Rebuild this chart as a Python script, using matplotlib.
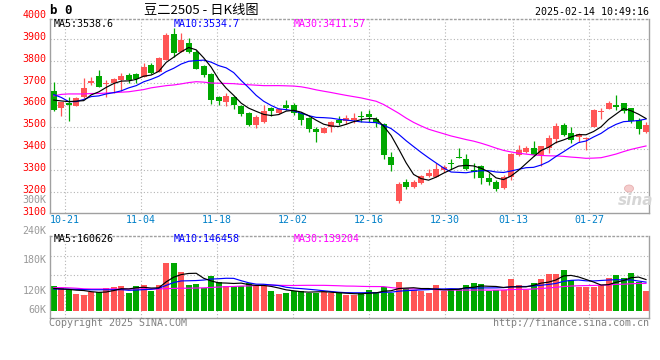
import numpy as np
import pandas as pd
import matplotlib
matplotlib.use("Agg")
import matplotlib.pyplot as plt
from matplotlib.patches import Rectangle, Ellipse
import matplotlib.transforms as mtransforms

# ---------------- data ----------------
tick_labels = ["10-21", "11-04", "11-18", "12-02", "12-16", "12-30", "01-13", "01-27"]
tick_index = [2, 12, 22, 32, 42, 52, 61, 71]

opens = [3663, 3584, 3610, 3595, 3638, 3699, 3732, 3694, 3699, 3714,
         3737, 3741, 3726, 3782, 3752, 3805, 3923, 3843, 3882, 3843,
         3778, 3741, 3634, 3615, 3638, 3596, 3561, 3508, 3523, 3587,
         3561, 3599, 3599, 3564, 3541, 3490, 3473, 3500, 3531, 3524,
         3531, 3551, 3558, 3534, 3511, 3363, 3162, 3249, 3226, 3244,
         3275, 3268, 3302, 3333, 3363, 3352, 3302, 3320, 3267, 3248,
         3218, 3272, 3371, 3386, 3401, 3371, 3401, 3444, 3508, 3473,
         3455, 3442, 3500, 3566, 3581, 3599, 3607, 3584, 3531, 3477]
highs = [3706, 3615, 3634, 3634, 3721, 3729, 3760, 3714, 3721, 3744,
         3744, 3747, 3793, 3793, 3821, 3930, 3950, 3930, 3904, 3851,
         3782, 3745, 3641, 3653, 3641, 3599, 3569, 3554, 3599, 3592,
         3584, 3622, 3610, 3569, 3546, 3500, 3500, 3528, 3549, 3554,
         3564, 3573, 3576, 3546, 3515, 3383, 3249, 3261, 3256, 3279,
         3305, 3333, 3325, 3351, 3401, 3374, 3333, 3325, 3287, 3256,
         3279, 3381, 3416, 3412, 3435, 3412, 3462, 3516, 3519, 3500,
         3473, 3455, 3580, 3584, 3618, 3645, 3607, 3584, 3538, 3523]
lows = [3572, 3549, 3528, 3593, 3630, 3691, 3683, 3634, 3656, 3665,
        3699, 3699, 3726, 3741, 3752, 3805, 3821, 3843, 3836, 3763,
        3729, 3604, 3599, 3595, 3581, 3549, 3503, 3496, 3518, 3549,
        3558, 3577, 3554, 3508, 3477, 3432, 3470, 3477, 3508, 3514,
        3515, 3523, 3523, 3500, 3352, 3299, 3153, 3215, 3218, 3238,
        3268, 3268, 3294, 3307, 3355, 3302, 3264, 3236, 3233, 3208,
        3214, 3256, 3366, 3381, 3366, 3320, 3381, 3424, 3458, 3424,
        3432, 3394, 3500, 3534, 3581, 3576, 3561, 3519, 3467, 3473]
closes = [3577, 3615, 3599, 3630, 3676, 3709, 3683, 3702, 3718, 3732,
          3714, 3717, 3775, 3744, 3816, 3920, 3836, 3897, 3843, 3763,
          3737, 3622, 3619, 3641, 3599, 3558, 3508, 3546, 3572, 3572,
          3580, 3587, 3564, 3531, 3490, 3477, 3496, 3523, 3519, 3540,
          3538, 3543, 3546, 3515, 3371, 3325, 3238, 3226, 3249, 3275,
          3290, 3307, 3317, 3330, 3355, 3307, 3294, 3264, 3249, 3216,
          3268, 3375, 3394, 3404, 3371, 3412, 3450, 3503, 3462, 3439,
          3465, 3447, 3577, 3569, 3607, 3589, 3573, 3528, 3490, 3508]
volumes_k = [127.5, 115.4, 110.3, 86.2, 81.0, 98.2, 98.2, 118.8, 124.0, 127.5,
             93.0, 127.5, 132.6, 103.4, 132.6, 247.9, 247.9, 199.7, 132.6, 137.8,
             118.8, 179.0, 149.8, 127.5, 127.5, 127.5, 141.2, 127.5, 127.5, 103.4,
             86.2, 93.0, 103.4, 103.4, 93.0, 93.0, 98.2, 89.6, 89.6, 81.0,
             81.0, 93.0, 106.8, 98.2, 124.0, 93.0, 149.8, 118.8, 106.8, 103.4,
             93.0, 132.6, 103.4, 112.0, 112.0, 132.6, 144.6, 137.8, 103.4, 106.8,
             106.8, 163.6, 132.6, 106.8, 144.6, 163.6, 189.4, 189.4, 210.0, 158.4,
             124.0, 124.0, 124.0, 132.6, 167.0, 184.2, 170.4, 196.0, 149.8, 103.4]

# moving-average values before a full window exists
ma5_head = [3622, 3618, 3615, 3617]
ma10_head = [3647, 3634, 3615, 3615, 3625, 3638, 3641, 3650, 3656]
ma30_head = [3641, 3648, 3650, 3650, 3650, 3652, 3652, 3654, 3656, 3658,
             3660, 3665, 3670, 3678, 3683, 3688, 3691, 3696, 3702, 3706,
             3704, 3700, 3699, 3698, 3697, 3694, 3692, 3690, 3688]
vma5_head = [115, 112, 110, 106]
vma10_head = [112, 112, 111, 110, 109, 108, 108, 108, 108]
vma30_head = [119, 119, 118, 116, 113, 112, 112, 112, 112, 112,
              112, 112, 112, 112, 112, 114, 115, 116, 116, 117,
              118, 120, 122, 124, 125, 127, 128, 130, 131]

title = "豆二2505 - 日K线图"
stamp = "2025-02-14 10:49:16"
price_ma_text = ["MA5:3538.6", "MA10:3534.7", "MA30:3411.57"]
vol_ma_text = ["MA5:160626", "MA10:146458", "MA30:139204"]
price_labels = [3100, 3200, 3300, 3400, 3500, 3600, 3700, 3800, 3900, 4000]
price_grid = [3200, 3300, 3400, 3500, 3600, 3700, 3800, 3900]
vol_labels = ["240K", "180K", "120K", "60K"]


def moving_avg(values, n, head):
    s = pd.Series(values, dtype=float).rolling(n).mean().to_numpy()
    s[:len(head)] = head
    return s


ma5 = moving_avg(closes, 5, ma5_head)
ma10 = moving_avg(closes, 10, ma10_head)
ma30 = moving_avg(closes, 30, ma30_head)
vma5 = moving_avg(volumes_k, 5, vma5_head)
vma10 = moving_avg(volumes_k, 10, vma10_head)
vma30 = moving_avg(volumes_k, 30, vma30_head)

# ---------------- styles ----------------
RED = "#ff5555"
GREEN = "#00a800"
GRID = "#b4b4b4"
BORDER = "#a0a0a0"
MONO = "DejaVu Sans Mono"
FS = 7.2
DOT = (0, (1, 2))
LW = 0.85

W, H = 660, 360
fig = plt.figure(figsize=(W / 100, H / 100), dpi=100)
fig.patch.set_facecolor("white")


def fx(px):
    return px / W


def fy(py):
    return 1 - py / H


ax = fig.add_axes([fx(50), fy(213), fx(649) - fx(50), fy(19) - fy(213)])
axv = fig.add_axes([fx(50), fy(318.3), fx(649) - fx(50), fy(235.7) - fy(318.3)])

n = len(closes)
x = np.arange(n)
XL = (-0.5, 79.4)
slope = 700 / 153.0
ax.set_xlim(*XL)
ax.set_ylim(3900 - (213 - 39.3) * slope, 3900 + (39.3 - 19) * slope)
vscale = 5.16
axv.set_xlim(*XL)
axv.set_ylim(-(318.3 - 310.7) * vscale, (310.7 - 235.7) * vscale)

for a in (ax, axv):
    a.set_xticks([])
    a.set_yticks([])
    for s in ("left", "right", "bottom"):
        a.spines[s].set_color(BORDER)
        a.spines[s].set_linewidth(1.0)
    a.spines["top"].set_color(BORDER)
    a.spines["top"].set_linestyle(DOT)
    a.spines["top"].set_linewidth(1.0)
    a.set_facecolor("white")

# gridlines
grid_pos = [1.5 + (i - 2) * 7.6 / 7.5 for i in tick_index]
for g in grid_pos:
    ax.axvline(g, color=GRID, lw=0.8, ls=DOT, zorder=0)
    axv.axvline(g, color=GRID, lw=0.8, ls=DOT, zorder=0)
for p in price_grid:
    ax.axhline(p, color=GRID, lw=0.8, ls=DOT, zorder=0)
for f in (0.758, 0.524, 0.282):
    axv.plot([0, 1], [f, f], transform=axv.transAxes, color=GRID, lw=0.8, ls=DOT, zorder=0)

# candles
bw = 0.8
for i in range(n):
    o, h, l, c = opens[i], highs[i], lows[i], closes[i]
    col = RED if c >= o else GREEN
    ax.vlines(i, l, h, color=col, lw=0.9, zorder=2)
    bottom = min(o, c)
    height = max(abs(c - o), 4.0)
    ax.add_patch(Rectangle((i - bw / 2, bottom), bw, height, facecolor=col,
                           edgecolor="none", zorder=3))

ax.plot(x, ma30, color="#ff00ff", lw=LW, zorder=4)
ax.plot(x, ma10, color="#0000ff", lw=LW, zorder=5)
ax.plot(x, ma5, color="black", lw=LW, zorder=6)

# volume
vcols = [RED if closes[i] >= opens[i] else GREEN for i in range(n)]
axv.bar(x, volumes_k, width=bw, color=vcols, zorder=2, linewidth=0)
axv.plot(x, vma30, color="#ff00ff", lw=LW, zorder=4)
axv.plot(x, vma10, color="#0000ff", lw=LW, zorder=5)
axv.plot(x, vma5, color="black", lw=LW, zorder=6)

# price labels (left, red)
off = mtransforms.ScaledTranslation(0, 2.5 / 100, fig.dpi_scale_trans)
ytrans = mtransforms.blended_transform_factory(fig.transFigure, ax.transData) + off
for p in price_labels:
    fig.text(fx(46.5), p, str(p), transform=ytrans, ha="right", va="center",
             color="#ff0000", family=MONO, fontsize=FS)

# volume labels (left, grey)
for lab, py in zip(["300K"] + vol_labels, [200, 231.3, 260.3, 290.8, 310]):
    fig.text(fx(46.5), fy(py), lab, ha="right", va="center", color="#999999",
             family=MONO, fontsize=FS)

# date labels
dtrans = mtransforms.blended_transform_factory(ax.transData, fig.transFigure)
for k, (lab, g) in enumerate(zip(tick_labels, grid_pos)):
    if k == 0:
        fig.text(XL[0], fy(219.5), lab, transform=dtrans, ha="left", va="center",
                 color="#0080c8", family=MONO, fontsize=FS)
    else:
        fig.text(g, fy(219.5), lab, transform=dtrans, ha="center", va="center",
                 color="#0080c8", family=MONO, fontsize=FS)

# MA headers
ma_cols = ["black", "#0000ff", "#ff00ff"]
for t, px, col in zip(price_ma_text, [54, 174, 294], ma_cols):
    fig.text(fx(px), fy(24), t, ha="left", va="center", color=col, family=MONO, fontsize=FS)
for t, px, col in zip(vol_ma_text, [54, 174, 294], ma_cols):
    fig.text(fx(px), fy(239.5), t, ha="left", va="center", color=col, family=MONO, fontsize=FS)

# top texts
fig.text(fx(50), fy(11), "b 0", ha="left", va="center", color="black",
         family=MONO, fontsize=9, fontweight="bold")
fig.text(fx(201), fy(10.5), title, ha="center", va="center", color="black",
         family=["Noto Sans CJK SC", "DejaVu Sans"], fontsize=9.5)
fig.text(fx(649), fy(12), stamp, ha="right", va="center", color="black",
         family=MONO, fontsize=FS)

# bottom texts
fig.text(fx(49), fy(323.5), "Copyright 2025 SINA.COM", ha="left", va="center",
         color="#808080", family=MONO, fontsize=FS)
fig.text(fx(649), fy(323.5), "http://finance.sina.com.cn", ha="right", va="center",
         color="#808080", family=MONO, fontsize=FS)

# watermark
fig.text(fx(636), fy(200.5), "sina", ha="center", va="center", color="#d6d6d6",
         fontsize=11, fontweight="bold", style="italic", family="DejaVu Sans")
fig.patches.append(Ellipse((fx(629), fy(188.5)), 9 / W, 7 / H, transform=fig.transFigure,
                           facecolor="#f4cccc", edgecolor="#e8b0b0", lw=0.6, zorder=5))

fig.savefig("out.png", dpi=100, facecolor="white")
